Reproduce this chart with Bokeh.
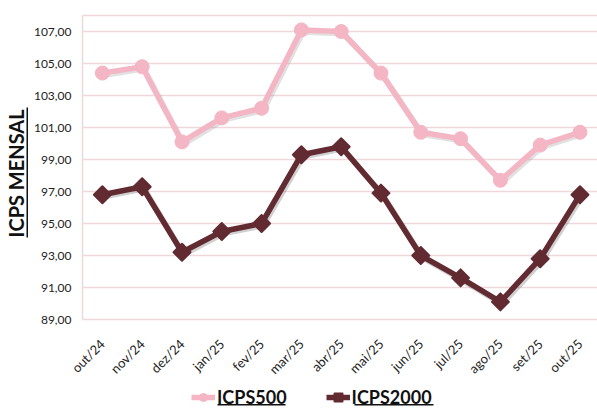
import math
from bokeh.plotting import figure
from bokeh.models import FixedTicker, Legend, LegendItem, BoxAnnotation, Label
from bokeh.embed import file_html
from bokeh.resources import INLINE

months = ["out/24", "nov/24", "dez/24", "jan/25", "fev/25", "mar/25", "abr/25",
          "mai/25", "jun/25", "jul/25", "ago/25", "set/25", "out/25"]
icps500 = [104.4, 104.8, 100.1, 101.6, 102.2, 107.1, 107.0, 104.4, 100.7, 100.3, 97.7, 99.9, 100.7]
icps2000 = [96.8, 97.3, 93.2, 94.5, 95.0, 99.3, 99.8, 96.9, 93.0, 91.6, 90.1, 92.8, 96.8]
y_ticks = [89, 91, 93, 95, 97, 99, 101, 103, 105, 107]
y_tick_labels = ["89,00", "91,00", "93,00", "95,00", "97,00", "99,00", "101,00",
                 "103,00", "105,00", "107,00"]
y_top = 108

FONT = "Lato"
PINK = "#F4B6C4"
DARK = "#612B31"
GRID = "#EED8DC"

xs = list(range(len(months)))
x_left = -0.5

W, H = 597, 408
p = figure(width=W, height=H, output_backend="svg", toolbar_location=None,
           x_range=(-2.560, 12.440), y_range=(83.4375, 108.9375),
           min_border_left=0, min_border_right=0, min_border_top=0, min_border_bottom=0)
p.outline_line_color = None
p.background_fill_color = "white"
p.border_fill_color = "white"

# y axis, fixed at the left edge of the plot area
p.yaxis.fixed_location = x_left
p.yaxis.ticker = FixedTicker(ticks=y_ticks)
p.yaxis.bounds = (y_ticks[0], y_top)
p.yaxis.major_label_overrides = {t: l for t, l in zip(y_ticks, y_tick_labels)}
p.yaxis.major_tick_line_color = None
p.yaxis.major_tick_out = 0
p.yaxis.major_tick_in = 0
p.yaxis.minor_tick_line_color = None
p.yaxis.axis_line_color = GRID
p.yaxis.axis_line_width = 1.5
p.yaxis.major_label_text_font = FONT
p.yaxis.major_label_text_font_size = "12px"
p.yaxis.major_label_text_color = "#222222"
p.yaxis.major_label_standoff = 11

# x axis, fixed at the bottom value
p.xaxis.fixed_location = y_ticks[0]
p.xaxis.ticker = FixedTicker(ticks=xs)
p.xaxis.major_label_overrides = {i: m for i, m in zip(xs, months)}
p.xaxis.major_label_orientation = math.pi / 4
p.xaxis.major_tick_line_color = None
p.xaxis.major_tick_out = 0
p.xaxis.major_tick_in = 0
p.xaxis.minor_tick_line_color = None
p.xaxis.axis_line_color = None
p.xaxis.major_label_text_font = FONT
p.xaxis.major_label_text_font_size = "13px"
p.xaxis.major_label_text_color = "#222222"
p.xaxis.major_label_standoff = 22

p.xgrid.grid_line_color = None
p.ygrid.ticker = FixedTicker(ticks=y_ticks + [y_top])
p.ygrid.grid_line_color = GRID
p.ygrid.grid_line_width = 1.5
p.ygrid.cross_bounds = (x_left, 13)

# y title (screen units relative to the frame bottom-left)
p.add_layout(Label(x=15, y=171, x_units="screen", y_units="screen", angle=math.pi / 2,
                   text="ICPS MENSAL", text_align="left", text_baseline="alphabetic",
                   text_font=FONT, text_font_style="bold", text_font_size="20px",
                   text_color="#111111"))
p.add_layout(BoxAnnotation(left=26, right=27.5, bottom=171, top=301,
                           left_units="screen", right_units="screen",
                           bottom_units="screen", top_units="screen",
                           fill_color="#111111", fill_alpha=1, line_color=None))

# shadows
dx = 0.04
dy = -0.12
p.line([x + dx for x in xs], [v + dy for v in icps500], line_color="#888888",
       line_alpha=0.25, line_width=6)
p.line([x + dx for x in xs], [v + dy for v in icps2000], line_color="#444444",
       line_alpha=0.25, line_width=6)

l1 = p.line(xs, icps500, line_color=PINK, line_width=5.5)
s1 = p.scatter(xs, icps500, marker="circle", size=14, fill_color=PINK, line_color=PINK)
l2 = p.line(xs, icps2000, line_color=DARK, line_width=5.5)
s2 = p.scatter(xs, icps2000, marker="square", angle=math.pi / 4, size=12,
               fill_color=DARK, line_color=DARK, line_join="round", line_width=2)

legend = Legend(items=[LegendItem(label="ICPS500", renderers=[l1, s1]),
                       LegendItem(label="ICPS2000", renderers=[l2, s2])],
                location=(191, 0), orientation="horizontal",
                label_text_font=FONT, label_text_font_style="bold",
                label_text_font_size="18px", label_text_color="#111111",
                glyph_width=24, glyph_height=20, label_height=20, label_standoff=2,
                spacing=39, padding=0, margin=0, border_line_color=None,
                background_fill_alpha=0)
p.add_layout(legend, "center")

# legend underlines
for left, right in [(217, 285), (354, 433)]:
    p.add_layout(BoxAnnotation(left=left, right=right, bottom=3, top=4.5,
                               left_units="screen", right_units="screen",
                               bottom_units="screen", top_units="screen",
                               fill_color="#111111", fill_alpha=1, line_color=None))

open("out.html", "w").write(file_html(p, INLINE))
